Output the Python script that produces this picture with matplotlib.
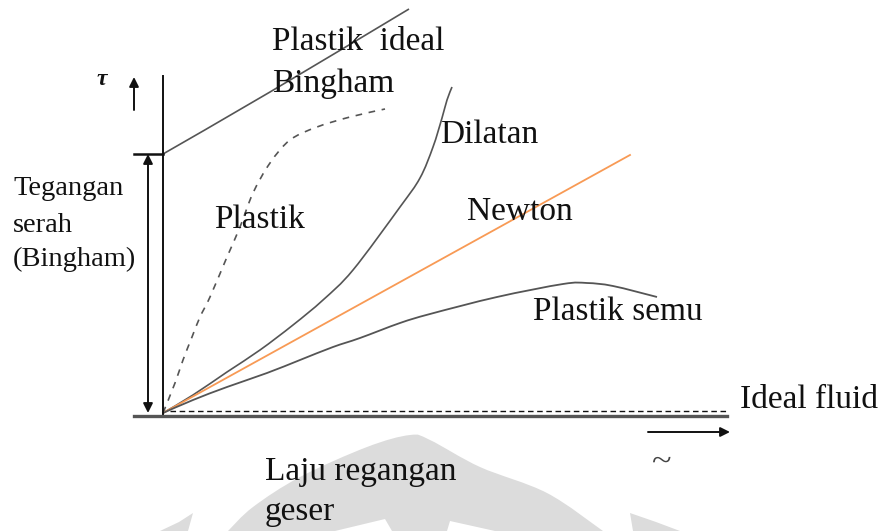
import matplotlib
matplotlib.use("Agg")
import matplotlib.pyplot as plt
from matplotlib.patches import Polygon, PathPatch
from matplotlib.path import Path

# Shear rate (gamma) and shear stress (tau) for each flow curve, in diagram units
bingham_g = [0.0, 10.7, 24.6]
bingham_t = [25.9, 32.1, 40.4]

plastik_g = [0.0, 1.2, 2.0, 2.9, 3.7, 4.7, 6.4, 7.7, 9.0, 10.7, 12.7, 15.4, 18.7, 22.2]
plastik_t = [0.0, 3.0, 5.3, 7.6, 9.6, 11.6, 15.6, 18.6, 22.0, 25.0, 27.3, 28.6, 29.6, 30.4]

dilatan_g = [0.0, 3.0, 6.4, 9.7, 13.0, 16.0, 19.0, 23.7, 25.7, 27.0, 27.9, 28.4, 28.9]
dilatan_t = [0.0, 1.8, 4.1, 6.3, 8.8, 11.3, 14.3, 20.6, 23.5, 26.6, 29.5, 31.3, 32.6]

newton_g = [0.0, 46.7]
newton_t = [0.0, 25.8]

semu_g = [0.0, 3.0, 6.4, 10.4, 13.7, 17.0, 19.7, 23.7, 26.7, 33.4, 40.0, 42.4, 45.0, 49.4]
semu_t = [0.0, 1.3, 2.6, 4.0, 5.3, 6.6, 7.5, 9.0, 9.9, 11.6, 12.9, 13.0, 12.7, 11.6]

ideal_g = [0.7, 56.4]
ideal_t = [0.25, 0.25]

yield_stress = 25.9

GRAY = "#555555"
ORANGE = "#f89a55"
INK = "#111111"
SERIF = ["Liberation Serif", "DejaVu Serif"]

fig = plt.figure(figsize=(8.82, 5.31), dpi=100)
ax = fig.add_axes([0, 0, 1, 1])
ax.set_xlim(-16.3, 71.9)
ax.set_ylim(-11.8, 41.3)
ax.axis("off")


def smooth_path(xs, ys, closed=False):
    """Cubic Bezier path passing through every point (Catmull-Rom tangents)."""
    pts = list(zip(xs, ys))
    verts = [pts[0]]
    codes = [Path.MOVETO]
    n = len(pts)
    for i in range(n - 1):
        p0 = pts[i - 1] if i > 0 else pts[i]
        p1 = pts[i]
        p2 = pts[i + 1]
        p3 = pts[i + 2] if i + 2 < n else pts[i + 1]
        c1 = (p1[0] + (p2[0] - p0[0]) / 6, p1[1] + (p2[1] - p0[1]) / 6)
        c2 = (p2[0] - (p3[0] - p1[0]) / 6, p2[1] - (p3[1] - p1[1]) / 6)
        verts += [c1, c2, p2]
        codes += [Path.CURVE4] * 3
    if closed:
        verts.append(pts[0])
        codes.append(Path.CLOSEPOLY)
    return Path(verts, codes)


def curve(xs, ys, **kw):
    ax.add_patch(PathPatch(smooth_path(xs, ys), facecolor="none", **kw))


# faint logo in the background
wm = "#dcdcdc"
dome_x = [6.5, 9.0, 13.7, 20.4, 24.7, 26.7, 31.7, 38.4, 44.0]
dome_y = [-11.8, -9.4, -6.4, -3.4, -2.2, -2.7, -5.4, -8.0, -11.8]
ax.add_patch(PathPatch(smooth_path(dome_x, dome_y, closed=True),
                       facecolor=wm, edgecolor="none", zorder=0))
for pts in [[(3.0, -10.0), (1.6, -10.9), (-0.3, -11.8), (2.5, -11.8)],
            [(46.7, -10.0), (47.0, -11.8), (51.7, -11.8), (49.3, -10.9)]]:
    ax.add_patch(Polygon(pts, closed=True, facecolor=wm, edgecolor="none", zorder=0))
for pts in [[(17.2, -11.8), (22.2, -10.6), (22.9, -11.8)],
            [(28.7, -10.8), (28.4, -11.8), (33.2, -11.8)]]:
    ax.add_patch(Polygon(pts, closed=True, facecolor="white", edgecolor="none",
                         zorder=0.5))

# axes of the diagram
ax.plot([0, 0], [-0.2, 33.7], color=INK, lw=1.4, zorder=3)
ax.plot([-2.9, 56.4], [-0.25, -0.25], color=GRAY, lw=2.4, zorder=3)
ax.plot([-2.9, 0], [yield_stress, yield_stress], color=INK, lw=1.8, zorder=3)

# flow curves
curve(bingham_g, bingham_t, edgecolor=GRAY, lw=1.2, zorder=2)
curve(plastik_g, plastik_t, edgecolor=GRAY, lw=1.2, ls=(0, (4, 4)), zorder=2)
curve(dilatan_g, dilatan_t, edgecolor=GRAY, lw=1.2, zorder=2)
ax.plot(newton_g, newton_t, color=ORANGE, lw=1.3, zorder=2)
curve(semu_g, semu_t, edgecolor=GRAY, lw=1.3, zorder=2)
ax.plot(ideal_g, ideal_t, color=INK, lw=1.0, ls=(0, (4, 2.6)), zorder=2)

# arrows
arrow = dict(arrowstyle="-|>", color=INK, lw=1.4, mutation_scale=14,
             shrinkA=0, shrinkB=0)
ax.annotate("", xy=(-2.9, 33.6), xytext=(-2.9, 30.3), arrowprops=arrow)
ax.annotate("", xy=(56.7, -1.9), xytext=(48.5, -1.9), arrowprops=arrow)
ax.annotate("", xy=(-1.5, 0.0), xytext=(-1.5, yield_stress),
            arrowprops=dict(arrowstyle="<|-|>", color=INK, lw=1.4,
                            mutation_scale=14, shrinkA=0, shrinkB=0))


# labels
def label(x, y, s, size=24, **kw):
    ax.text(x, y, s, fontsize=size, family=SERIF, color=INK,
            ha="left", va="baseline", zorder=4, **kw)


label(10.9, 36.3, "Plastik  ideal")
label(10.9, 32.1, "Bingham")
label(5.1, 18.5, "Plastik")
label(27.7, 27.0, "Dilatan")
label(30.4, 19.3, "Newton")
label(37.0, 9.3, "Plastik semu")
label(57.7, 0.5, "Ideal fluid")
label(10.2, -6.7, "Laju regangan")
label(10.2, -10.7, "geser")
label(-15.0, 21.8, "Tegangan", size=20.5)
label(-15.0, 18.1, "serah", size=20.5)
label(-15.0, 14.7, "(Bingham)", size=20.5)
ax.text(-6.6, 32.8, "τ", fontsize=17, family=SERIF, style="italic",
        weight="bold", color=INK, ha="left", va="baseline")
ax.text(49.9, -4.9, "~", fontsize=26, family=SERIF, color="#444444",
        ha="center", va="center")

fig.savefig("out.png", dpi=100)
